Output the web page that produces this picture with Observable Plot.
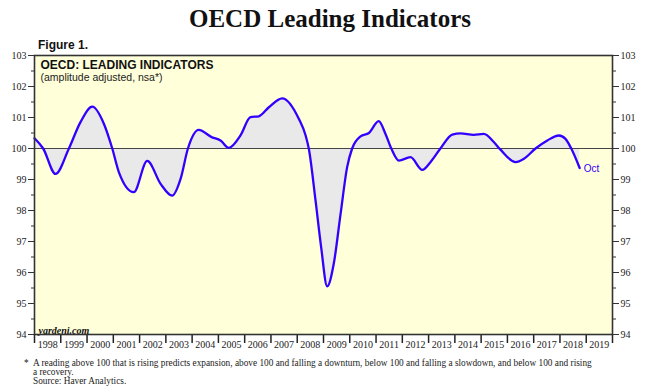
<!DOCTYPE html>
<html>
<head>
<meta charset="utf-8">
<script src="https://cdn.jsdelivr.net/npm/d3@7"></script>
<script src="https://cdn.jsdelivr.net/npm/@observablehq/plot@0.6"></script>
<style>
  html, body { margin: 0; padding: 0; background: #fff; }
  #wrap { position: relative; width: 660px; height: 386px; overflow: hidden; }
  #wrap svg { position: absolute; left: 0; top: 0; }
  .title { position: absolute; left: 0; width: 660px; top: 5px; text-align: center;
           font-family: "Liberation Serif", "Times New Roman", serif; font-weight: bold; font-size: 25px; color: #111; }
  .fig { position: absolute; left: 38px; top: 38px; font-family: "Liberation Sans", Arial, sans-serif;
         font-weight: bold; font-size: 12px; color: #111; }
  .foot { position: absolute; left: 24px; top: 359px; font-family: "Liberation Serif", "Times New Roman", serif;
          font-size: 9.3px; line-height: 8.8px; color: #222; }
  .foot .star { position: absolute; left: 0; top: 0; }
  .foot .txt { position: absolute; left: 9px; top: 0; white-space: nowrap; }
</style>
</head>
<body>
<div id="wrap">
  <div class="title">OECD Leading Indicators</div>
  <div class="fig">Figure 1.</div>
  <div class="foot"><span class="star">*</span><span class="txt">A reading above 100 that is rising predicts expansion, above 100 and falling a downturn, below 100 and falling a slowdown, and below 100 and rising<br>a recovery.<br>Source: Haver Analytics.</span></div>
</div>
<script>
// Time (decimal years) and OECD leading indicator values
const years = [1998.0, 1998.33, 1998.8, 1999.31, 1999.75, 2000.2, 2000.64, 2000.96, 2001.21, 2001.78,
  2002.29, 2002.8, 2003.24, 2003.56, 2003.84, 2004.25, 2004.76, 2005.08, 2005.4, 2005.84,
  2006.22, 2006.54, 2006.92, 2007.43, 2008.06, 2008.32, 2008.44, 2008.7, 2008.91, 2009.14,
  2009.39, 2009.65, 2009.9, 2010.09, 2010.41, 2010.73, 2011.1, 2011.36, 2011.58, 2011.87,
  2012.31, 2012.76, 2013.07, 2013.45, 2013.9, 2014.22, 2014.72, 2015.1, 2015.49, 2015.72,
  2016.31, 2016.63, 2017.07, 2017.52, 2017.96, 2018.21, 2018.43, 2018.75];
const values = [100.33, 100.0, 99.18, 100.0, 100.85, 101.35, 100.8, 100.0, 99.24, 98.59,
  99.6, 98.86, 98.48, 99.02, 100.0, 100.6, 100.36, 100.26, 100.02, 100.42,
  101.01, 101.04, 101.33, 101.62, 100.96, 100.42, 100.0, 98.3, 96.82, 95.55,
  96.28, 97.89, 99.4, 100.0, 100.39, 100.5, 100.88, 100.47, 100.0, 99.61,
  99.72, 99.31, 99.56, 100.0, 100.45, 100.49, 100.44, 100.47, 100.2, 99.98,
  99.56, 99.67, 100.0, 100.26, 100.42, 100.31, 100.0, 99.37];
const yearLabels = [1998, 1999, 2000, 2001, 2002, 2003, 2004, 2005, 2006, 2007, 2008,
  2009, 2010, 2011, 2012, 2013, 2014, 2015, 2016, 2017, 2018, 2019];
const yMajor = [94, 95, 96, 97, 98, 99, 100, 101, 102, 103];
const yMinor = [94.5, 95.5, 96.5, 97.5, 98.5, 99.5, 100.5, 101.5, 102.5];
const lastLabel = "Oct";

const data = years.map((t, i) => ({t, v: values[i]}));
const yearTicks = yearLabels.concat([2020]);
const serif = "'Liberation Serif', 'Times New Roman', serif";
const sans = "'Liberation Sans', Arial, sans-serif";
const blue = "#3300ff";

const chart = Plot.plot({
  width: 660,
  height: 386,
  marginLeft: 34,
  marginRight: 48,
  marginTop: 55,
  marginBottom: 52,
  style: {fontFamily: serif, fontSize: "10px", color: "#222", background: "transparent"},
  x: {type: "linear", domain: [1998, 2020]},
  y: {domain: [94, 103]},
  marks: [
    Plot.frame({fill: "#ffffda", stroke: null}),
    Plot.areaY(data, {x: "t", y1: 100, y2: "v", fill: "#e9e9e9", curve: "monotone-x"}),
    Plot.ruleY([100], {stroke: "#444", strokeWidth: 1}),
    Plot.lineY(data, {x: "t", y: "v", stroke: blue, strokeWidth: 2.3, curve: "monotone-x"}),
    Plot.text(data.slice(-1), {x: "t", y: "v", text: () => lastLabel, dx: 4, dy: 1, textAnchor: "start",
      fill: blue, fontFamily: sans, fontSize: 10}),
    Plot.text(["OECD: LEADING INDICATORS"], {frameAnchor: "top-left", dx: 6, dy: 5, fontFamily: sans,
      fontWeight: "bold", fontSize: 12, fill: "#111"}),
    Plot.text(["(amplitude adjusted, nsa*)"], {frameAnchor: "top-left", dx: 6, dy: 18, fontFamily: sans,
      fontSize: 10.5, fill: "#222"}),
    Plot.text(["yardeni.com"], {frameAnchor: "bottom-left", dx: 4, dy: -1, fontFamily: serif,
      fontWeight: "bold", fontStyle: "italic", fontSize: 10, fill: "#111", letterSpacing: "0.6px"}),
    // left axis
    Plot.axisY(yMajor, {anchor: "left", tickSize: 6, tickPadding: 2, label: null, stroke: "#333"}),
    Plot.axisY(yMinor, {anchor: "left", tickSize: 3, tickFormat: () => "", label: null, stroke: "#333"}),
    // right axis
    Plot.axisY(yMajor, {anchor: "right", tickSize: 6, tickPadding: 2, label: null, stroke: "#333"}),
    Plot.axisY(yMinor, {anchor: "right", tickSize: 3, tickFormat: () => "", label: null, stroke: "#333"}),
    // bottom axis: ticks at year boundaries, labels centered in each year
    Plot.axisX(yearTicks, {anchor: "bottom", tickSize: 9, tickFormat: () => "", label: null, stroke: "#222", strokeWidth: 1.5}),
    Plot.axisX(yearLabels.map(y => y + 0.5), {anchor: "bottom", tickSize: 0, tickPadding: 6,
      tickFormat: d => String(Math.floor(d)), label: null}),
    Plot.frame({stroke: "#333", strokeWidth: 1.6})
  ]
});
document.getElementById("wrap").prepend(chart);
</script>
</body>
</html>
